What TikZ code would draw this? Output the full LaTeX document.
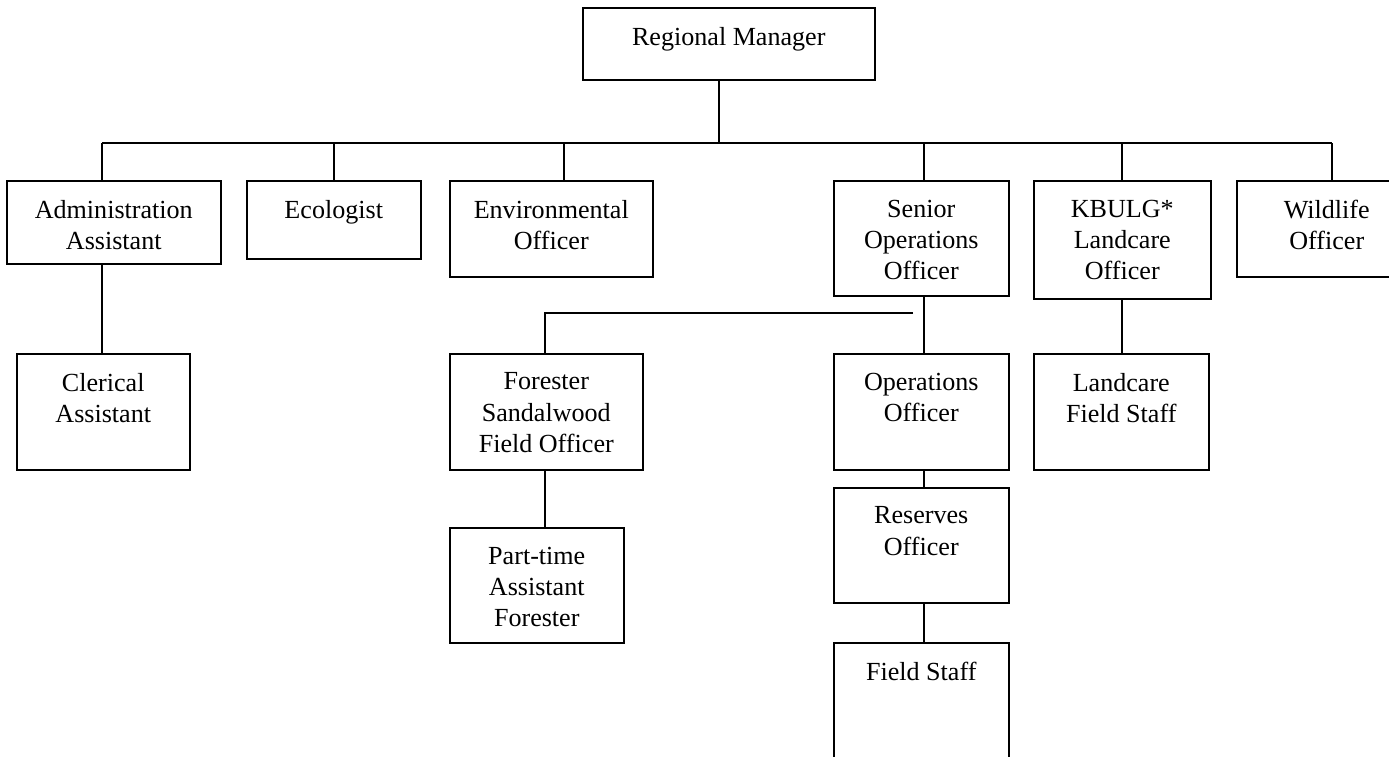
\documentclass[tikz,border=0pt]{standalone}
\usepackage{fontspec}
\setmainfont{Liberation Serif}
\usetikzlibrary{positioning}
\def\pxunit{0.46pt}
\tikzset{boxsize/.style 2 args={minimum width=#1*\pxunit, minimum height=#2*\pxunit}}

\begin{document}
\begin{tikzpicture}[x=\pxunit, y=-\pxunit, line width=0.7pt]
    \tikzstyle{post}=[draw, rectangle, anchor=north west, inner sep=0pt]
    \tikzstyle{role}=[align=center, inner sep=0pt, font=\fontsize{12}{14.4}\selectfont]

    \useasboundingbox (0,0) rectangle (1389,756);
    \clip (0,0) rectangle (1389,756);

    % Draw the boxes, text sits near the top of each box
    \foreach \name/\x/\y/\w/\h/\txt in {
        rm/582/7/292/72/{Regional Manager},
        adm/6/180/214/83/{Administration\\Assistant},
        eco/246/180/174/78/{Ecologist},
        env/449/180/203/96/{Environmental\\Officer},
        sop/833/180/175/115/{Senior\\Operations\\Officer},
        kbu/1033/180/177/118/{KBULG*\\Landcare\\Officer},
        wil/1236/180/180/96/{Wildlife\\Officer},
        cle/16/353/173/116/{Clerical\\Assistant},
        fsf/449/353/193/116/{Forester\\Sandalwood\\Field Officer},
        ops/833/353/175/116/{Operations\\Officer},
        lfs/1033/353/175/116/{Landcare\\Field Staff},
        pta/449/527/174/115/{Part-time\\Assistant\\Forester},
        res/833/487/175/115/{Reserves\\Officer},
        fst/833/642/175/130/{Field Staff}}
    {
        \node[post, boxsize={\w}{\h}] (\name) at (\x,\y) {};
        \node[role, below=8.8pt of \name.north] (\name-t) {\txt};
    }

    % Main bus under the Regional Manager
    \coordinate (rm-x) at (719,143);
    \draw (rm-x |- rm.south) -- (rm-x);
    \foreach \dest/\x in {adm/102, eco/334, env/564, sop/924, kbu/1122, wil/1332}
    {
        \coordinate (t-\dest) at (\x,143);
        \draw (t-\dest) -- (t-\dest |- \dest.north);
    }
    \draw (t-adm) -- (t-wil);

    % Second level links
    \draw (t-adm |- adm.south) -- (t-adm |- cle.north);
    \draw (t-sop |- sop.south) -- (t-sop |- ops.north);
    \draw (t-sop |- ops.south) -- (t-sop |- res.north);
    \draw (t-sop |- res.south) -- (t-sop |- fst.north);
    \draw (t-kbu |- kbu.south) -- (t-kbu |- lfs.north);

    % Forester branch
    \coordinate (fb-w) at (545,313);
    \coordinate (fb-e) at (913,313);
    \draw (fb-e) -- (fb-w) -- (fb-w |- fsf.north);
    \draw (fb-w |- fsf.south) -- (fb-w |- pta.north);
\end{tikzpicture}
\end{document}
